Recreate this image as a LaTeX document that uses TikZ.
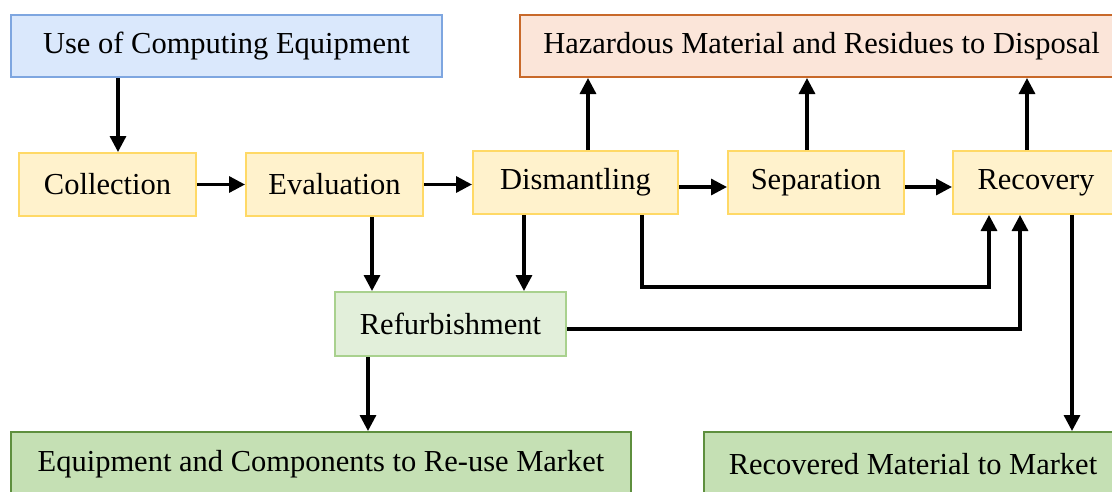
\documentclass[tikz,border=0pt]{standalone}
\usepackage{fontspec}
\setmainfont{Liberation Serif}
\usetikzlibrary{arrows.meta}
\definecolor{bluefill}{HTML}{DAE8FC}
\definecolor{blueline}{HTML}{7EA6E0}
\definecolor{orfill}{HTML}{FBE5D9}
\definecolor{orline}{HTML}{C8692A}
\definecolor{yefill}{HTML}{FFF2CC}
\definecolor{yeline}{HTML}{FFD966}
\definecolor{lgfill}{HTML}{E2EFDA}
\definecolor{lgline}{HTML}{A9D18E}
\definecolor{dgfill}{HTML}{C5E0B4}
\definecolor{dgline}{HTML}{5E8F3E}
\tikzset{
  box/.style={draw, line width=2pt, inner sep=0pt, align=center,
    font=\fontsize{30.5}{36}\selectfont},
  bluebox/.style={box, fill=bluefill, draw=blueline},
  orbox/.style={box, fill=orfill, draw=orline},
  yebox/.style={box, fill=yefill, draw=yeline},
  lgbox/.style={box, fill=lgfill, draw=lgline},
  dgbox/.style={box, fill=dgfill, draw=dgline},
  arr/.style={line width=3.3pt, -{Triangle[length=16pt,width=16pt]}},
}
\begin{document}
\begin{tikzpicture}[x=1pt,y=-1pt]
\useasboundingbox (0,0) rectangle (1112,491);
\clip (0,0) rectangle (1112,491);
\fill[white] (0,0) rectangle (1112,491);

\node[bluebox, minimum width=431pt, minimum height=62pt] (use) at (226.5,46) {Use of Computing Equipment};
\node[orbox, minimum width=603pt, minimum height=62pt] (haz) at (821.5,46) {Hazardous Material and Residues to Disposal};

\node[yebox, minimum width=177pt, minimum height=63pt] (col) at (107.5,184.5) {Collection};
\node[yebox, minimum width=177pt, minimum height=63pt] (eva) at (334.5,184.5) {Evaluation};
\node[yebox, minimum width=205pt, minimum height=63pt] (dis) at (575.5,182.5) {Dismantling};
\node[yebox, minimum width=176pt, minimum height=63pt] (sep) at (816,182.5) {Separation};
\node[yebox, minimum width=166pt, minimum height=63pt] (rec) at (1036,182.5) {Recovery};

\node[lgbox, minimum width=231pt, minimum height=64pt] (ref) at (450.5,324) {Refurbishment};

\node[dgbox, minimum width=620pt, minimum height=64pt] (eqp) at (321,464) {Equipment and Components to Re-use Market};
\node[dgbox, minimum width=418pt, minimum height=64pt] (rmk) at (913,464) {Recovered Material to Market};

% x positions of vertical connectors
\coordinate (x118) at (118,0);
\coordinate (x588) at (588,0);
\coordinate (x807) at (807,0);
\coordinate (x1027) at (1027,0);
\coordinate (x372) at (372,0);
\coordinate (x524) at (524,0);
\coordinate (x642) at (642,0);
\coordinate (x989) at (989,0);
\coordinate (x1020) at (1020,0);
\coordinate (x368) at (368,0);
\coordinate (x1072) at (1072,0);
\coordinate (y287) at (0,287);
\coordinate (y187) at (0,187);

\draw[arr] (use.south -| x118) -- (col.north -| x118);
\draw[arr] (col.east) -- (eva.west);
\draw[arr] (eva.east) -- (eva.east -| dis.west);
\draw[arr] (dis.east |- y187) -- (sep.west |- y187);
\draw[arr] (sep.east |- y187) -- (rec.west |- y187);

\draw[arr] (dis.north -| x588) -- (haz.south -| x588);
\draw[arr] (sep.north -| x807) -- (haz.south -| x807);
\draw[arr] (rec.north -| x1027) -- (haz.south -| x1027);

\draw[arr] (eva.south -| x372) -- (ref.north -| x372);
\draw[arr] (dis.south -| x524) -- (ref.north -| x524);

\draw[arr] (dis.south -| x642) -- (x642 |- y287) -- (x989 |- y287) -- (rec.south -| x989);
\coordinate (refout) at ([yshift=-5pt]ref.east);
\draw[arr] (refout) -- (refout -| x1020) -- (rec.south -| x1020);

\draw[arr] (ref.south -| x368) -- (eqp.north -| x368);
\draw[arr] (rec.south -| x1072) -- (rmk.north -| x1072);
\end{tikzpicture}
\end{document}
